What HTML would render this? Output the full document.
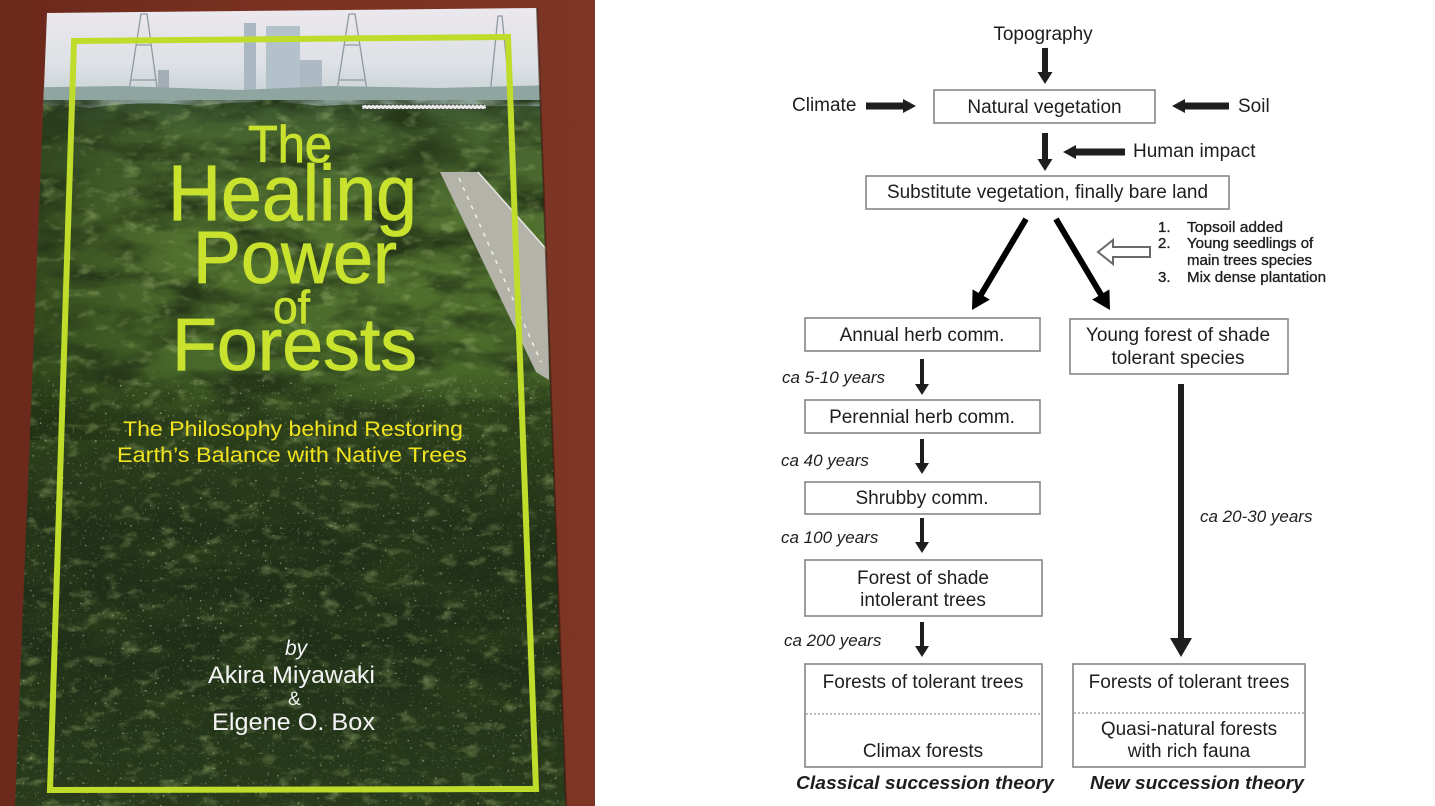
<!DOCTYPE html>
<html><head><meta charset="utf-8">
<style>
html,body{margin:0;padding:0;background:#fff;}
svg{display:block;}
</style></head>
<body>
<svg width="1435" height="806" viewBox="0 0 1435 806" xmlns="http://www.w3.org/2000/svg">
<defs>
  <clipPath id="cov"><polygon points="47,13 537,8 566,806 15,806"/></clipPath>
  <linearGradient id="wood" x1="0" y1="0" x2="1" y2="0">
    <stop offset="0" stop-color="#6b291b"/><stop offset="0.5" stop-color="#7a3222"/><stop offset="1" stop-color="#7d3524"/>
  </linearGradient>
  <linearGradient id="sky" gradientUnits="userSpaceOnUse" x1="0" y1="8" x2="0" y2="110">
    <stop offset="0" stop-color="#ece8ee"/><stop offset="0.55" stop-color="#dde1e5"/><stop offset="1" stop-color="#bfcccf"/>
  </linearGradient>
  <linearGradient id="forest" gradientUnits="userSpaceOnUse" x1="0" y1="100" x2="0" y2="806">
    <stop offset="0" stop-color="#3a5532"/>
    <stop offset="0.05" stop-color="#46642f"/>
    <stop offset="0.2" stop-color="#52722f"/>
    <stop offset="0.38" stop-color="#486829"/>
    <stop offset="0.45" stop-color="#30451c"/>
    <stop offset="0.6" stop-color="#213118"/>
    <stop offset="0.8" stop-color="#203018"/>
    <stop offset="1" stop-color="#293c1c"/>
  </linearGradient>
  <linearGradient id="leftshade" x1="0" y1="0" x2="1" y2="0">
    <stop offset="0" stop-color="#0c1608" stop-opacity="0.5"/><stop offset="1" stop-color="#0c1608" stop-opacity="0"/>
  </linearGradient>
  <radialGradient id="tunnel" cx="0.5" cy="0.5" r="0.5">
    <stop offset="0" stop-color="#16220f" stop-opacity="0.6"/><stop offset="1" stop-color="#16220f" stop-opacity="0"/>
  </radialGradient>
  <filter id="nDark" x="0" y="0" width="100%" height="100%">
    <feTurbulence type="fractalNoise" baseFrequency="0.014 0.035" numOctaves="4" seed="7"/>
    <feColorMatrix type="matrix" values="0 0 0 0 0.02  0 0 0 0 0.04  0 0 0 0 0.01  3.0 0 0 0 -1.25"/>
  </filter>
  <filter id="nLight" x="0" y="0" width="100%" height="100%">
    <feTurbulence type="fractalNoise" baseFrequency="0.05 0.09" numOctaves="3" seed="11"/>
    <feColorMatrix type="matrix" values="0 0 0 0 0.45  0 0 0 0 0.6  0 0 0 0 0.22  0 2.6 0 0 -1.45"/>
  </filter>
  <filter id="speck" x="0" y="0" width="100%" height="100%">
    <feTurbulence type="fractalNoise" baseFrequency="0.4" numOctaves="1" seed="3"/>
    <feColorMatrix type="matrix" values="0 0 0 0 0.8  0 0 0 0 0.88  0 0 0 0 0.6  6 0 0 0 -4.0"/>
  </filter>
</defs>

<!-- ============ LEFT PHOTO ============ -->
<rect x="0" y="0" width="595" height="806" fill="url(#wood)"/>
<g clip-path="url(#cov)">
  <rect x="0" y="0" width="595" height="120" fill="url(#sky)"/>
  <rect x="244" y="23" width="12" height="80" fill="#a9b8c3"/>
  <rect x="266" y="26" width="34" height="77" fill="#b3c1cb"/>
  <rect x="300" y="60" width="22" height="43" fill="#aebac3"/>
  <rect x="158" y="70" width="11" height="33" fill="#a2aeb3"/>
  <ellipse cx="192" cy="100" rx="16" ry="10" fill="#eef0f1"/>
  <g stroke="#8f9a9f" stroke-width="1.3" fill="none">
    <polygon points="126,110 141,14 147,14 160,110"/>
    <line x1="130" y1="80" x2="156" y2="80"/><line x1="137" y1="45" x2="151" y2="45"/>
    <polygon points="334,110 349,14 355,14 370,110"/>
    <line x1="338" y1="80" x2="366" y2="80"/><line x1="345" y1="45" x2="359" y2="45"/>
    <polygon points="490,95 498,16 502,16 510,95"/>
  </g>
  <polygon points="0,88 120,86 240,90 330,86 440,88 595,84 595,112 0,112" fill="#8fa59f"/>
  <path d="M0,112 Q40,102 90,108 Q140,100 200,106 Q260,98 320,106 Q380,102 440,108 Q500,104 595,108 L595,806 L0,806 Z" fill="url(#forest)"/>
  <rect x="0" y="100" width="180" height="340" fill="url(#leftshade)"/>
  <ellipse cx="430" cy="150" rx="50" ry="40" fill="url(#tunnel)"/>
  <rect x="0" y="100" width="595" height="706" filter="url(#nDark)"/>
  <rect x="0" y="100" width="595" height="706" filter="url(#nLight)" opacity="0.45"/>
  <rect x="0" y="380" width="595" height="426" filter="url(#speck)" opacity="0.55"/>
  <polygon points="440,172 478,172 547,250 549,380 536,372" fill="#b4b3aa"/>
  <line x1="459" y1="178" x2="541" y2="362" stroke="#eeeeea" stroke-width="1.5" stroke-dasharray="4,6"/>
  <line x1="478" y1="172" x2="547" y2="250" stroke="#e8e8e2" stroke-width="1.5"/>
  <rect x="362" y="105" width="124" height="4" fill="#e8e8e6"/>
  <rect x="362" y="105" width="124" height="4" fill="none" stroke="#3a3a3a" stroke-width="1" stroke-dasharray="2,2"/>
  <polygon points="74,41 508,37 536,789 50,790" fill="none" stroke="#bfdc2b" stroke-width="6"/>
  <g font-family="'Liberation Sans', Arial, sans-serif" fill="#c9e22e" stroke="#c9e22e" stroke-width="0.8">
    <text x="248" y="162" font-size="52" textLength="84" lengthAdjust="spacingAndGlyphs">The</text>
    <text x="168" y="220" font-size="79" textLength="249" lengthAdjust="spacingAndGlyphs">Healing</text>
    <text x="193" y="283" font-size="74" textLength="204" lengthAdjust="spacingAndGlyphs">Power</text>
    <text x="273" y="323" font-size="46" textLength="37" lengthAdjust="spacingAndGlyphs">of</text>
    <text x="172" y="370" font-size="74" textLength="245" lengthAdjust="spacingAndGlyphs">Forests</text>
  </g>
  <g font-family="'Liberation Sans', Arial, sans-serif" fill="#f1e31f" font-size="21">
    <text x="123" y="436" textLength="340" lengthAdjust="spacingAndGlyphs">The Philosophy behind Restoring</text>
    <text x="117" y="462" textLength="350" lengthAdjust="spacingAndGlyphs">Earth’s Balance with Native Trees</text>
  </g>
  <g font-family="'Liberation Sans', Arial, sans-serif" fill="#f3f3f3">
    <text x="285" y="655" font-size="21" font-style="italic">by</text>
    <text x="208" y="683" font-size="24" textLength="167" lengthAdjust="spacingAndGlyphs">Akira Miyawaki</text>
    <text x="288" y="705" font-size="19">&amp;</text>
    <text x="212" y="730" font-size="24" textLength="163" lengthAdjust="spacingAndGlyphs">Elgene O. Box</text>
  </g>
</g>
<polyline points="537,8 566,806" stroke="#3b1a10" stroke-width="2" fill="none" opacity="0.6"/>

<!-- ============ DIAGRAM ============ -->
<g font-family="'Liberation Sans', Arial, sans-serif" fill="#1e1e1e" font-size="19">
  <text x="1043" y="40" text-anchor="middle">Topography</text>
  <text x="792" y="111">Climate</text>
  <text x="1238" y="112">Soil</text>
  <text x="1133" y="157">Human impact</text>

  <polygon points="1042,48 1048,48 1048,72 1052.5,72 1045,84 1037.5,72 1042,72"/>
  <polygon points="866,102.5 903,102.5 903,99 916,106 903,113 903,109.5 866,109.5"/>
  <polygon points="1229,102.5 1185,102.5 1185,99 1172,106 1185,113 1185,109.5 1229,109.5"/>
  <polygon points="1042,133 1048,133 1048,159 1052.5,159 1045,171 1037.5,159 1042,159"/>
  <polygon points="1125,148.5 1076,148.5 1076,145 1063,152 1076,159 1076,155.5 1125,155.5"/>

  <g fill="#fff" stroke="#858585" stroke-width="1.6">
    <rect x="934" y="90" width="221" height="33"/>
    <rect x="866" y="176" width="363" height="33"/>
    <rect x="805" y="318" width="235" height="33"/>
    <rect x="1070" y="319" width="218" height="55"/>
    <rect x="805" y="400" width="235" height="33"/>
    <rect x="805" y="482" width="235" height="32"/>
    <rect x="805" y="560" width="237" height="56"/>
    <rect x="805" y="664" width="237" height="103"/>
    <rect x="1073" y="664" width="232" height="103"/>
  </g>
  <line x1="806" y1="714" x2="1041" y2="714" stroke="#777" stroke-width="1" stroke-dasharray="2,2"/>
  <line x1="1074" y1="713" x2="1304" y2="713" stroke="#777" stroke-width="1" stroke-dasharray="2,2"/>

  <g text-anchor="middle">
    <text x="1044.5" y="113">Natural vegetation</text>
    <text x="1047.5" y="198">Substitute vegetation, finally bare land</text>
    <text x="922" y="341">Annual herb comm.</text>
    <text x="1178" y="341">Young forest of shade</text>
    <text x="1178" y="364">tolerant species</text>
    <text x="922" y="423">Perennial herb comm.</text>
    <text x="922" y="504">Shrubby comm.</text>
    <text x="923" y="584">Forest of shade</text>
    <text x="923" y="606">intolerant trees</text>
    <text x="923" y="688">Forests of tolerant trees</text>
    <text x="923" y="757">Climax forests</text>
    <text x="1189" y="688">Forests of tolerant trees</text>
    <text x="1189" y="735">Quasi-natural forests</text>
    <text x="1189" y="757">with rich fauna</text>
  </g>

  <line x1="1026" y1="219" x2="979" y2="298" stroke="#000" stroke-width="6"/>
  <polygon points="972,310 989.8,299.6 972.6,289.4" fill="#000"/>
  <line x1="1056" y1="219" x2="1103" y2="298" stroke="#000" stroke-width="6"/>
  <polygon points="1110,310 1109.4,289.4 1092.2,299.6" fill="#000"/>

  <polygon points="1098,252 1113,240 1113,247 1150,247 1150,257 1113,257 1113,264" fill="#fff" stroke="#6a6a6a" stroke-width="2"/>

  <g font-size="15" stroke="#1e1e1e" stroke-width="0.35">
    <text x="1158" y="232">1.</text><text x="1187" y="232" textLength="96" lengthAdjust="spacingAndGlyphs">Topsoil added</text>
    <text x="1158" y="248">2.</text><text x="1187" y="248">Young seedlings of</text>
    <text x="1187" y="265">main trees species</text>
    <text x="1158" y="282">3.</text><text x="1187" y="282" textLength="139" lengthAdjust="spacingAndGlyphs">Mix dense plantation</text>
  </g>

  <polygon points="920,359 924,359 924,384 929,384 922,395 915,384 920,384"/>
  <polygon points="920,439 924,439 924,463 929,463 922,474 915,463 920,463"/>
  <polygon points="920,518 924,518 924,542 929,542 922,553 915,542 920,542"/>
  <polygon points="920,622 924,622 924,646 929,646 922,657 915,646 920,646"/>

  <polygon points="1178,384 1184,384 1184,638 1192,638 1181,657 1170,638 1178,638"/>

  <g font-style="italic" font-size="17">
    <text x="782" y="383">ca 5-10 years</text>
    <text x="781" y="466">ca 40 years</text>
    <text x="781" y="543">ca 100 years</text>
    <text x="784" y="646">ca 200 years</text>
    <text x="1200" y="522">ca 20-30 years</text>
  </g>

  <g font-style="italic" font-weight="bold" font-size="18">
    <text x="796" y="789" textLength="258" lengthAdjust="spacingAndGlyphs">Classical succession theory</text>
    <text x="1090" y="789" textLength="214" lengthAdjust="spacingAndGlyphs">New succession theory</text>
  </g>
</g>
</svg>
</body></html>
